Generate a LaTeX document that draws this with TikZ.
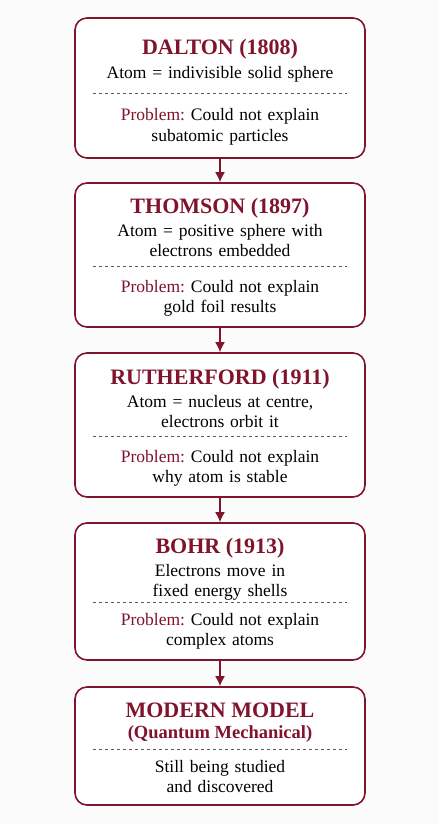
\documentclass[tikz,border=0pt]{standalone}
\usepackage{fontspec}
\setmainfont{Liberation Serif}
\usepackage{tikz}
\usetikzlibrary{arrows.meta}
\usetikzlibrary{positioning}
\definecolor{wine}{RGB}{128,20,44}
\definecolor{paper}{RGB}{252,251,251}
\tikzset{>=latex}
\tikzstyle{stage} = [rectangle, rounded corners=12pt, draw=wine, line width=1.6pt, fill=white, minimum width=290pt]
\tikzstyle{title} = [anchor=base, text=wine, font=\fontsize{22}{26}\selectfont\bfseries]
\tikzstyle{body} = [anchor=base, text width=270pt, align=center, inner sep=0pt, font=\fontsize{17.5}{20.5}\selectfont]
\tikzstyle{sep} = [dashed, draw=black!65, line width=0.6pt]
\tikzstyle{flow} = [-{Latex[length=10pt,width=10pt]}, draw=wine, line width=1.6pt]
\newcommand{\prob}{\textcolor{wine}{Problem:}}
\frenchspacing

\begin{document}
\begin{tikzpicture}[x=1pt, y=-1pt]
\fill [paper] (0,0) rectangle (439,824);
\useasboundingbox (0,0) rectangle (439,824);
% the five models
\node [stage, minimum height=140pt] (dalton) at (220, 88) {};
\node [stage, minimum height=144pt] (thomson) at (220, 255) {};
\node [stage, minimum height=144pt] (rutherford) at (220, 425) {};
\node [stage, minimum height=137pt] (bohr) at (220, 591.5) {};
\node [stage, minimum height=118pt] (modern) at (220, 746) {};
% Dalton
\node [title] (daltonT) at (220, 55) {DALTON (1808)};
\node [body] (daltonA) at (220, 79) {Atom = indivisible solid sphere};
\draw [sep] (93, 93) -- (347, 93);
\node [body] (daltonP) at (220, 121) {\prob{} Could not explain\\subatomic particles};
% Thomson
\node [title] (thomsonT) at (220, 213) {THOMSON (1897)};
\node [body] (thomsonA) at (220, 236) {Atom = positive sphere with\\electrons embedded};
\draw [sep] (93, 266) -- (347, 266);
\node [body] (thomsonP) at (220, 292) {\prob{} Could not explain\\gold foil results};
% Rutherford
\node [title] (rutherfordT) at (220, 384) {RUTHERFORD (1911)};
\node [body] (rutherfordA) at (220, 407) {Atom = nucleus at centre,\\electrons orbit it};
\draw [sep] (93, 436) -- (347, 436);
\node [body] (rutherfordP) at (220, 462) {\prob{} Could not explain\\why atom is stable};
% Bohr
\node [title] (bohrT) at (220, 553) {BOHR (1913)};
\node [body] (bohrA) at (220, 576) {Electrons move in\\fixed energy shells};
\draw [sep] (93, 602) -- (347, 602);
\node [body] (bohrP) at (220, 625) {\prob{} Could not explain\\complex atoms};
% Modern
\node [title] (modernT) at (220, 717) {MODERN MODEL};
\node [title, font=\fontsize{18.5}{22}\selectfont\bfseries] (modernQ) at (220, 738) {(Quantum Mechanical)};
\draw [sep] (93, 749) -- (347, 749);
\node [body] (modernA) at (220, 772) {Still being studied\\and discovered};
% arrows
\draw [flow] (dalton) -- (thomson);
\draw [flow] (thomson) -- (rutherford);
\draw [flow] (rutherford) -- (bohr);
\draw [flow] (bohr) -- (modern);
\end{tikzpicture}
\end{document}
